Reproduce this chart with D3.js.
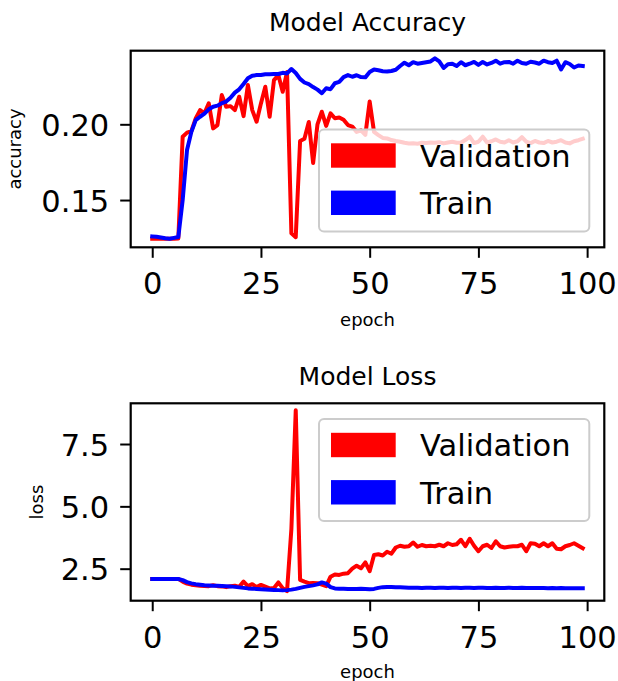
<!DOCTYPE html>
<html>
<head>
<meta charset="utf-8">
<script src="https://cdn.jsdelivr.net/npm/d3@7"></script>
<style>
  html, body { margin: 0; padding: 0; background: #ffffff; }
  svg { display: block; }
  text { font-family: "DejaVu Sans", sans-serif; fill: #000; }
</style>
</head>
<body>
<div id="chart"></div>
<script>
// ---------------- data ----------------
const epochs = d3.range(0, 100);

const valAcc = [
  0.1245, 0.1245, 0.1244, 0.1244, 0.1244, 0.1245, 0.1246, 0.1918, 0.1945, 0.1955,
  0.2039, 0.2094, 0.2072, 0.2138, 0.1973, 0.1995, 0.2193, 0.2116, 0.2120, 0.2094,
  0.2182, 0.2054, 0.2259, 0.2094, 0.2017, 0.2138, 0.2248, 0.2050, 0.2292, 0.2325,
  0.2215, 0.2345, 0.1280, 0.1255, 0.1890, 0.1905, 0.2015, 0.1745, 0.2000, 0.2083,
  0.1990, 0.2072, 0.2040, 0.2045, 0.2030, 0.1995, 0.1985, 0.1950, 0.1960, 0.1930,
  0.2150, 0.1950, 0.1929, 0.1910, 0.1907, 0.1896, 0.1890, 0.1885, 0.1878, 0.1874,
  0.1875, 0.1872, 0.1878, 0.1876, 0.1880, 0.1878, 0.1882, 0.1874, 0.1880, 0.1885,
  0.1878, 0.1880, 0.1896, 0.1918, 0.1876, 0.1885, 0.1918, 0.1880, 0.1888, 0.1900,
  0.1885, 0.1880, 0.1895, 0.1880, 0.1888, 0.1915, 0.1885, 0.1876, 0.1890, 0.1880,
  0.1876, 0.1890, 0.1880, 0.1885, 0.1895, 0.1880, 0.1874, 0.1888, 0.1895, 0.1905
];

const trainAcc = [
  0.1260, 0.1257, 0.1253, 0.1248, 0.1244, 0.1250, 0.1256, 0.1500, 0.1830, 0.1950,
  0.2028, 0.2050, 0.2070, 0.2099, 0.2116, 0.2123, 0.2140, 0.2150, 0.2175, 0.2209,
  0.2231, 0.2266, 0.2304, 0.2321, 0.2325, 0.2325, 0.2330, 0.2330, 0.2332, 0.2332,
  0.2340, 0.2336, 0.2365, 0.2339, 0.2300, 0.2276, 0.2265, 0.2246, 0.2229, 0.2205,
  0.2238, 0.2232, 0.2271, 0.2280, 0.2312, 0.2325, 0.2314, 0.2324, 0.2312, 0.2310,
  0.2345, 0.2362, 0.2357, 0.2350, 0.2348, 0.2352, 0.2360, 0.2385, 0.2407, 0.2390,
  0.2410, 0.2400, 0.2405, 0.2410, 0.2415, 0.2436, 0.2415, 0.2372, 0.2397, 0.2400,
  0.2385, 0.2410, 0.2390, 0.2400, 0.2412, 0.2392, 0.2412, 0.2395, 0.2405, 0.2420,
  0.2400, 0.2410, 0.2412, 0.2400, 0.2420, 0.2405, 0.2400, 0.2413, 0.2408, 0.2400,
  0.2420, 0.2410, 0.2405, 0.2420, 0.2362, 0.2410, 0.2398, 0.2375, 0.2388, 0.2385
];

const valLoss = [
  2.09, 2.09, 2.09, 2.09, 2.09, 2.09, 2.09, 1.98, 1.90, 1.86,
  1.84, 1.82, 1.81, 1.80, 1.84, 1.80, 1.79, 1.76, 1.80, 1.82,
  1.77, 1.98, 1.80, 1.88, 1.76, 1.85, 1.78, 1.71, 1.73, 1.95,
  1.72, 1.60, 4.10, 8.85, 2.05, 1.98, 1.92, 1.93, 1.92, 1.86,
  1.80, 2.18, 2.27, 2.25, 2.30, 2.32, 2.50, 2.62, 2.52, 2.75,
  2.40, 3.05, 3.08, 3.03, 3.18, 3.10, 3.35, 3.42, 3.38, 3.40,
  3.55, 3.38, 3.45, 3.40, 3.42, 3.40, 3.46, 3.40, 3.52, 3.45,
  3.48, 3.66, 3.40, 3.70, 3.42, 3.20, 3.40, 3.46, 3.33, 3.60,
  3.40, 3.35, 3.38, 3.40, 3.40, 3.46, 3.20, 3.52, 3.50, 3.40,
  3.52, 3.40, 3.52, 3.30, 3.28, 3.40, 3.45, 3.52, 3.42, 3.32
];

const trainLoss = [
  2.09, 2.09, 2.09, 2.09, 2.09, 2.09, 2.085, 2.04, 1.96, 1.91,
  1.88, 1.86, 1.84, 1.83, 1.82, 1.82, 1.81, 1.80, 1.79, 1.77,
  1.75, 1.73, 1.71, 1.70, 1.69, 1.68, 1.67, 1.66, 1.65, 1.64,
  1.63, 1.64, 1.66, 1.69, 1.73, 1.77, 1.80, 1.83, 1.87, 1.95,
  1.90, 1.76, 1.71, 1.70, 1.70, 1.69, 1.69, 1.69, 1.70, 1.69,
  1.68, 1.69, 1.73, 1.76, 1.77, 1.77, 1.76, 1.76, 1.75, 1.74,
  1.74, 1.74, 1.73, 1.74, 1.74, 1.73, 1.74, 1.74, 1.73, 1.74,
  1.74, 1.73, 1.74, 1.74, 1.73, 1.74, 1.74, 1.73, 1.73, 1.74,
  1.73, 1.73, 1.74, 1.73, 1.73, 1.74, 1.73, 1.73, 1.73, 1.73,
  1.73, 1.72, 1.73, 1.72, 1.73, 1.72, 1.72, 1.72, 1.72, 1.72
];

const xTicks = [0, 25, 50, 75, 100];
const accTicks = [0.15, 0.20];
const lossTicks = [2.5, 5.0, 7.5];
const seriesNames = ["Validation", "Train"];
const seriesColors = ["#ff0000", "#0000ff"];

// ---------------- layout ----------------
const W = 618, H = 681;
const svg = d3.select("#chart").append("svg").attr("width", W).attr("height", H);

const TICK_FS = 30.5, LEG_FS = 30.5, TITLE_FS = 25, LABEL_FS = 18;

function panel(cfg) {
  const { top, bottom, left, right, yDomain, yTicks, yFmt, title, titleY, ylabel, ylabelX,
          xlabelY, tickLabelY, val, train, legTop } = cfg;
  const x = d3.scaleLinear().domain([-4.95, 103.95]).range([left, right]);
  const y = d3.scaleLinear().domain(yDomain).range([bottom, top]);

  const g = svg.append("g");

  const clipId = "clip" + Math.round(top);
  svg.append("clipPath").attr("id", clipId)
    .append("rect").attr("x", left).attr("y", top).attr("width", right - left).attr("height", bottom - top);

  const line = d3.line().x((d, i) => x(epochs[i])).y(d => y(d));
  const plot = g.append("g").attr("clip-path", `url(#${clipId})`);
  plot.append("path").datum(val).attr("d", line)
    .attr("fill", "none").attr("stroke", seriesColors[0]).attr("stroke-width", 4)
    .attr("stroke-linejoin", "round").attr("stroke-linecap", "square");
  plot.append("path").datum(train).attr("d", line)
    .attr("fill", "none").attr("stroke", seriesColors[1]).attr("stroke-width", 4)
    .attr("stroke-linejoin", "round").attr("stroke-linecap", "square");

  // x axis
  const xAxis = d3.axisBottom(x).tickValues(xTicks).tickSize(10.5).tickPadding(0).tickFormat(d3.format("d"));
  const xg = g.append("g").attr("transform", `translate(0,${bottom})`).call(xAxis);
  xg.select(".domain").remove();
  xg.selectAll(".tick line").attr("stroke", "#000").attr("stroke-width", 2);
  xg.selectAll(".tick text").attr("font-size", TICK_FS).attr("font-family", "DejaVu Sans")
    .attr("fill", "#000").attr("dy", null).attr("y", tickLabelY - bottom + 0.365 * TICK_FS);

  // y axis
  const yAxis = d3.axisLeft(y).tickValues(yTicks).tickSize(10.5).tickPadding(11).tickFormat(yFmt);
  const yg = g.append("g").attr("transform", `translate(${left},0)`).call(yAxis);
  yg.select(".domain").remove();
  yg.selectAll(".tick line").attr("stroke", "#000").attr("stroke-width", 2);
  yg.selectAll(".tick text").attr("font-size", TICK_FS).attr("font-family", "DejaVu Sans")
    .attr("fill", "#000").attr("dy", "0.36em");

  // spines
  g.append("rect").attr("x", left).attr("y", top).attr("width", right - left).attr("height", bottom - top)
    .attr("fill", "none").attr("stroke", "#000").attr("stroke-width", 2.2);

  // title and labels
  g.append("text").attr("x", (left + right) / 2).attr("y", titleY)
    .attr("text-anchor", "middle").attr("font-size", TITLE_FS).text(title);
  g.append("text").attr("x", (left + right) / 2).attr("y", xlabelY)
    .attr("text-anchor", "middle").attr("font-size", LABEL_FS).text("epoch");
  g.append("text").attr("transform", `translate(${ylabelX},${(top + bottom) / 2}) rotate(-90)`)
    .attr("text-anchor", "middle").attr("font-size", LABEL_FS).text(ylabel);

  // legend
  const lx = 319, lw = 270.3, lh = 102;
  const lg = g.append("g");
  lg.append("rect").attr("x", lx).attr("y", legTop).attr("width", lw).attr("height", lh)
    .attr("rx", 5).attr("ry", 5)
    .attr("fill", "#ffffff").attr("fill-opacity", 0.8)
    .attr("stroke", "#cccccc").attr("stroke-width", 2);
  seriesNames.forEach((name, i) => {
    const cy = legTop + 26 + i * 47.3;
    lg.append("rect").attr("x", 331).attr("y", cy - 12.2).attr("width", 64.7).attr("height", 24.4)
      .attr("fill", seriesColors[i]);
    lg.append("text").attr("x", 420).attr("y", cy + 0.37 * LEG_FS)
      .attr("font-size", LEG_FS).text(name);
  });
}

panel({
  top: 50.7, bottom: 247.3, left: 130.7, right: 604.3,
  yDomain: [0.1188, 0.2486], yTicks: accTicks, yFmt: d3.format(".2f"),
  title: "Model Accuracy", titleY: 31, ylabel: "accuracy", ylabelX: 21,
  xlabelY: 325.5, tickLabelY: 283, val: valAcc, train: trainAcc, legTop: 129.5
});

panel({
  top: 403.3, bottom: 600.7, left: 130.7, right: 604.3,
  yDomain: [1.216, 9.133], yTicks: lossTicks, yFmt: d3.format(".1f"),
  title: "Model Loss", titleY: 385, ylabel: "loss", ylabelX: 43,
  xlabelY: 678, tickLabelY: 636.7, val: valLoss, train: trainLoss, legTop: 419
});
</script>
</body>
</html>
